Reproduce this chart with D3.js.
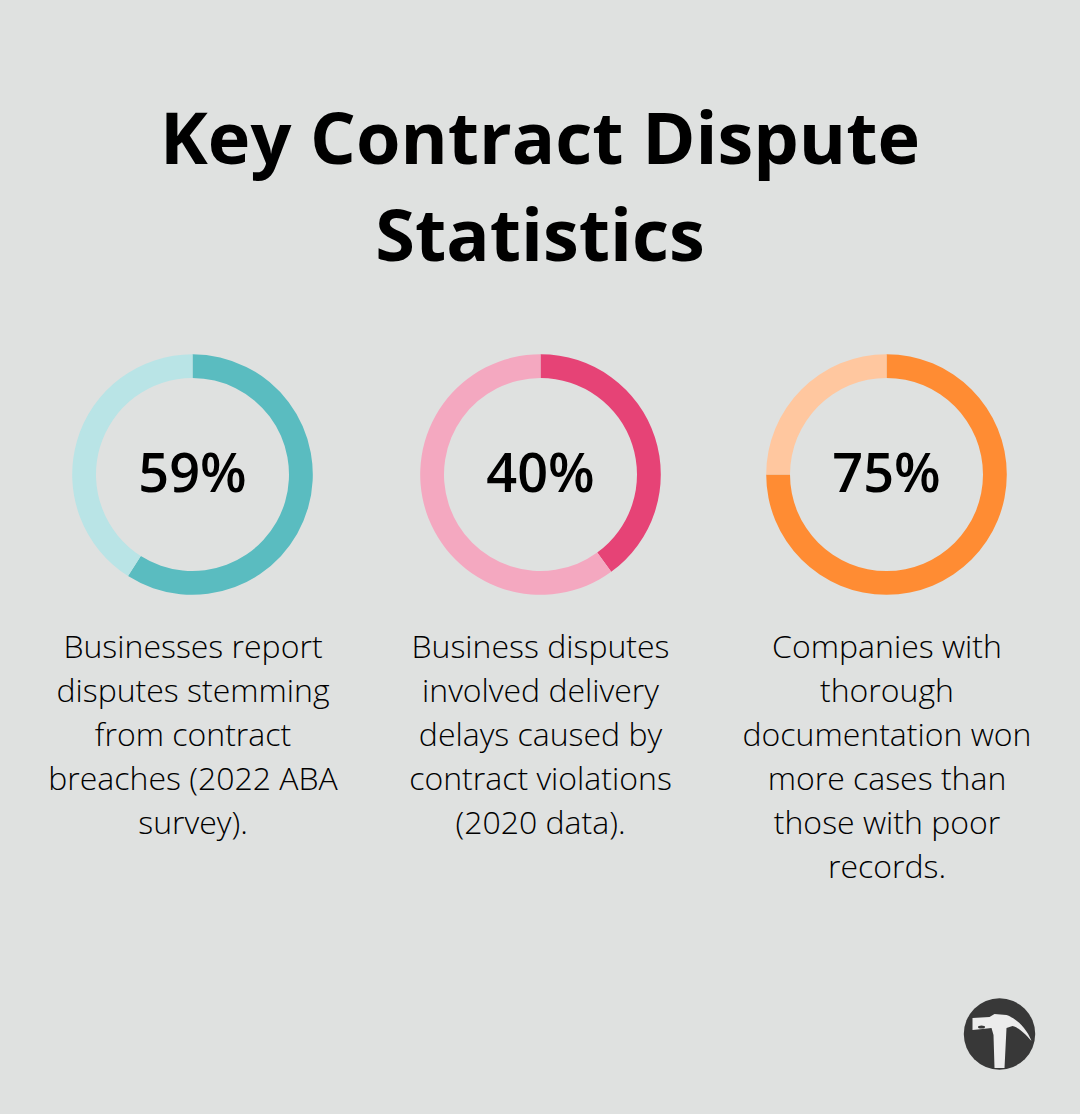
<!DOCTYPE html>
<html><head><meta charset="utf-8">
<script src="https://cdn.jsdelivr.net/npm/d3@7"></script>
<style>html,body{margin:0;padding:0;background:#dfe1e0}svg{display:block}text{font-family:"Open Sans",sans-serif}</style>
</head><body><div id="c"></div>
<script>
const titleLines = ["Key Contract Dispute", "Statistics"];
const percents = [59, 40, 75];
const centersX = [192.5, 540.5, 886.5];
const captionX = [193, 540.5, 887];
const strongColors = ["#5abcc0", "#e64376", "#ff8c33"];
const paleColors = ["#b9e4e6", "#f4a8c0", "#ffc79f"];
const captions = [
  ["Businesses report", "disputes stemming", "from contract", "breaches (2022 ABA", "survey)."],
  ["Business disputes", "involved delivery", "delays caused by", "contract violations", "(2020 data)."],
  ["Companies with", "thorough", "documentation won", "more cases than", "those with poor", "records."]
];
const svg = d3.select("#c").append("svg").attr("width",1080).attr("height",1114);
svg.append("rect").attr("width",1080).attr("height",1114).attr("fill","#dfe1e0");
svg.selectAll("text.t").data(titleLines).join("text").attr("class","t")
  .attr("x",540).attr("y",(d,i)=>164+i*97).attr("text-anchor","middle")
  .attr("font-size",72).attr("font-weight",700).attr("fill","#000").text(d=>d);
const arc = d3.arc().innerRadius(96.5).outerRadius(120.3);
const pie = d3.pie().sort(null);
percents.forEach((p,i)=>{
  const g = svg.append("g").attr("transform",`translate(${centersX[i]},474.5)`);
  g.selectAll("path").data(pie([p,100-p])).join("path").attr("d",arc)
    .attr("fill",(d,j)=>j?paleColors[i]:strongColors[i]);
  g.append("text").attr("text-anchor","middle").attr("y",17).attr("font-size",54)
    .attr("font-weight",600).attr("fill","#000").text(p+"%");
  svg.append("g").selectAll("text").data(captions[i]).join("text")
    .attr("x",captionX[i]).attr("y",(d,k)=>658+k*44).attr("text-anchor","middle")
    .attr("font-size",32).attr("font-weight",300).attr("fill","#000").text(d=>d);
});
// Hammer badge in the lower corner, softened like a scanned stamp
const defs = svg.append("defs");
defs.append("filter").attr("id","soft").append("feGaussianBlur").attr("stdDeviation",0.6);
const badge = svg.append("g").attr("transform","translate(999.5,1034)").attr("filter","url(#soft)");
badge.append("circle").attr("r",35.7).attr("fill","#383838");
badge.append("path").attr("fill","#ececec").attr("d",
  "M-27,-16 L-10,-17 L-5,-20 L7,-19 C16,-16 27,-6 32,7 C27,1 19,-7 13,-8 L7,-6 L5,34 L-5,34 L-6,1 L-8,-6 L-17,-5 L-27,-4 Z");
badge.append("ellipse").attr("cx",-18).attr("cy",-7).attr("rx",3.5).attr("ry",1.5).attr("fill","#383838");
</script></body></html>
